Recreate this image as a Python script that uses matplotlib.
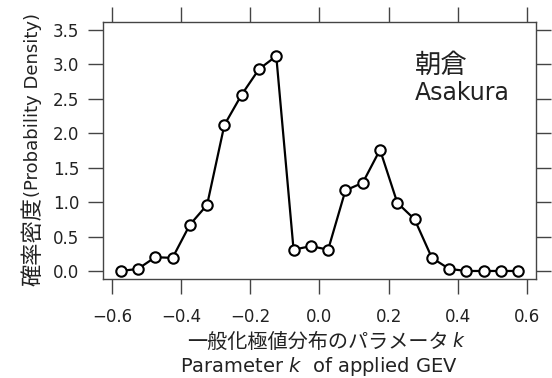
import matplotlib
matplotlib.use("Agg")
import matplotlib.pyplot as plt

# 一般化極値分布のパラメータ k (bin centers) と確率密度
k_values = [-0.575, -0.525, -0.475, -0.425, -0.375, -0.325, -0.275, -0.225,
            -0.175, -0.125, -0.075, -0.025, 0.025, 0.075, 0.125, 0.175,
            0.225, 0.275, 0.325, 0.375, 0.425, 0.475, 0.525, 0.575]
density = [0.00, 0.03, 0.20, 0.19, 0.67, 0.96, 2.12, 2.56,
           2.93, 3.12, 0.31, 0.36, 0.31, 1.17, 1.28, 1.76,
           0.99, 0.75, 0.19, 0.03, 0.00, 0.00, 0.00, 0.00]
x_ticks = [-0.6, -0.4, -0.2, 0.0, 0.2, 0.4, 0.6]
y_ticks = [0.0, 0.5, 1.0, 1.5, 2.0, 2.5, 3.0, 3.5]

plt.rcParams['font.family'] = ['DejaVu Sans', 'Noto Sans CJK JP']
plt.rcParams['mathtext.fontset'] = 'dejavusans'

TXT = '#222222'
JP = 'Noto Sans CJK JP'


def main():
    fig = plt.figure(figsize=(5.52, 3.78), dpi=100)
    ax = fig.add_axes([0.1866, 0.262, 0.7844, 0.680])

    ax.plot(k_values, density, color='black', linewidth=1.6,
            marker='o', markersize=7.5, markerfacecolor='white',
            markeredgecolor='black', markeredgewidth=1.5, clip_on=False)

    ax.set_xlim(-0.626, 0.626)
    ax.set_ylim(-0.116, 3.616)

    ax.set_xticks(x_ticks)
    ax.set_xticklabels(['\u2212%.1f' % abs(v) if v < 0 else '%.1f' % v for v in x_ticks])
    ax.set_yticks(y_ticks)
    ax.set_yticklabels(['%.1f' % v for v in y_ticks])

    # ticks outside on all four sides, labels only left/bottom
    ax.tick_params(direction='out', length=11, width=1, colors='#444444',
                   labelcolor=TXT, labelsize=12, pad=6,
                   top=True, right=True, labeltop=False, labelright=False)
    ax.tick_params(axis='x', pad=10)
    for sp in ax.spines.values():
        sp.set_linewidth(1)
        sp.set_color('#444444')

    # 地点名
    ax.text(0.72, 0.83, '朝倉', transform=ax.transAxes, fontsize=19,
            family=JP, color=TXT, va='center', ha='left')
    ax.text(0.72, 0.725, 'Asakura', transform=ax.transAxes, fontsize=17,
            color=TXT, va='center', ha='left')

    # y label: 日本語部分と英語部分を分けて描く
    fig.text(0.06, 0.479, '(Probability Density)', rotation=90, fontsize=13,
             color=TXT, ha='center', va='bottom')
    fig.text(0.06, 0.479, '確率密度', rotation=90, fontsize=16, family=JP,
             color=TXT, ha='center', va='top')

    # x label
    fig.text(449 / 552, 0.094, '一般化極値分布のパラメータ', fontsize=14.5,
             family=JP, color=TXT, ha='right', va='center')
    fig.text(452 / 552, 0.097, 'k', fontsize=13.5, style='italic',
             color=TXT, ha='left', va='center')
    fig.text(0.577, 0.03, 'Parameter $k$  of applied GEV', fontsize=14,
             color=TXT, ha='center', va='center')

    fig.savefig('out.png', dpi=100)


if __name__ == '__main__':
    main()
